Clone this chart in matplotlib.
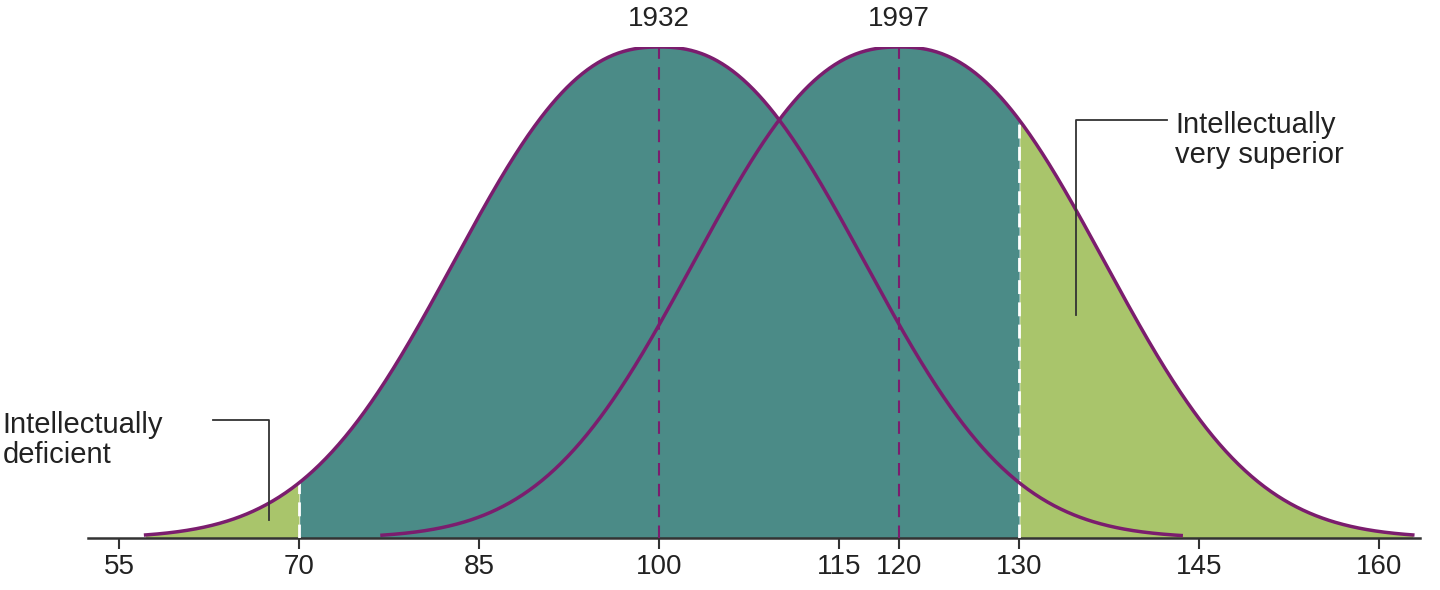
import numpy as np
import matplotlib.pyplot as plt

plt.rcParams['font.family'] = ['Liberation Sans', 'DejaVu Sans']

means = [100, 120]
years = ['1932', '1997']
sd = 15
spans = [(57.2, 143.5), (76.9, 162.8)]
ticks = [55, 70, 85, 100, 115, 120, 130, 145, 160]
cut_low, cut_high = 70, 130

teal = '#4b8b87'
green = '#a9c56b'
purple = '#7b1d6e'

def curve(x, m):
    # slightly flat-topped bell, as drawn in the source
    z = np.abs((x - m) / sd)
    return np.exp(-0.421 * z ** 2.375)

fig = plt.figure(figsize=(14.4, 5.9), dpi=100)
ax = fig.add_axes([88 / 1440, 52 / 590, 1332 / 1440, 491 / 590])

x = np.linspace(spans[0][0], spans[1][1], 2000)
ys = []
for m, (a, b) in zip(means, spans):
    y = np.where((x >= a) & (x <= b), curve(x, m), 0)
    ys.append(y)
top = np.maximum(ys[0], ys[1])

ax.fill_between(x, 0, top, where=x <= cut_low, color=green, lw=0)
ax.fill_between(x, 0, top, where=(x >= cut_low) & (x <= cut_high), color=teal, lw=0)
ax.fill_between(x, 0, top, where=x >= cut_high, color=green, lw=0)

for m, (a, b), yr in zip(means, spans, years):
    xx = np.linspace(a, b, 800)
    ax.plot(xx, curve(xx, m), color=purple, lw=2.5, zorder=5)
    ax.plot([m, m], [0, 1], color=purple, lw=1.5, ls=(0, (6, 4)), zorder=4)
    ax.text(m, 1.03, yr, ha='center', va='bottom', fontsize=20, color='#222222')

for c in (cut_low, cut_high):
    h = top[np.argmin(np.abs(x - c))]
    ax.plot([c, c], [0, h], color='white', lw=2, ls=(0, (5, 3)), zorder=4)

# leader lines
ax.plot([62.8, 67.5, 67.5], [0.24, 0.24, 0.037], color='#333333', lw=1.3, zorder=6)
ax.text(45.3, 0.2, 'Intellectually\ndeficient', ha='left', va='center', fontsize=21,
        color='#222222', linespacing=1.1)
ax.plot([142.3, 134.7, 134.7], [0.851, 0.851, 0.454], color='#333333', lw=1.3, zorder=6)
ax.text(143.0, 0.81, 'Intellectually\nvery superior', ha='left', va='center', fontsize=21,
        color='#222222', linespacing=1.1)

ax.set_xlim(52.4, 163.4)
ax.set_ylim(0, 1)
ax.set_xticks(ticks)
ax.set_xticklabels([str(t) for t in ticks], fontsize=20, color='#222222')
ax.tick_params(axis='x', length=8, width=1.5, color='#333333')
ax.set_yticks([])
for s in ('top', 'right', 'left'):
    ax.spines[s].set_visible(False)
ax.spines['bottom'].set_linewidth(1.8)
ax.spines['bottom'].set_color('#333333')

fig.savefig('out.png', dpi=100)
